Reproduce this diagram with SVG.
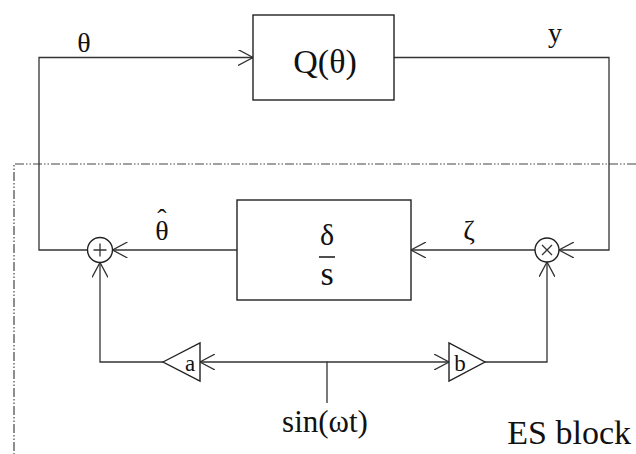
<svg xmlns="http://www.w3.org/2000/svg" width="636" height="454" viewBox="0 0 636 454">
<style>
.ln{fill:none;stroke:#333;stroke-width:1.3}
.bx{fill:#fff;stroke:#222;stroke-width:1.4}
.dd{fill:none;stroke:#444;stroke-width:1.2;stroke-dasharray:9 2 1.5 2 1.5 2}
.t{font-family:"Liberation Serif","Times New Roman","DejaVu Serif",serif;fill:#111}
</style>
<defs>
<marker id="ar" viewBox="0 0 15 16" refX="15" refY="8" markerWidth="15" markerHeight="16" markerUnits="userSpaceOnUse" orient="auto">
<path d="M0,0 L15,8 L0,16" fill="none" stroke="#333" stroke-width="1.3"/>
</marker>
</defs>
<rect width="636" height="454" fill="#fff"/>
<g id="es-boundary">
<path class="dd" d="M636,164 H14 V454"/>
</g>
<g id="connectors">
<path class="ln" d="M87.5,250 H39 V57.5 H253" marker-end="url(#ar)"/>
<path class="ln" d="M394,57.5 H609 V250 H559" marker-end="url(#ar)"/>
<path class="ln" d="M535,250 H411" marker-end="url(#ar)"/>
<path class="ln" d="M237,250 H112.5" marker-end="url(#ar)"/>
<path class="ln" d="M163,362 H100 V262.5" marker-end="url(#ar)"/>
<path class="ln" d="M485,362 H547 V262" marker-end="url(#ar)"/>
<path class="ln" d="M327,403 V362 H200" marker-end="url(#ar)"/>
<path class="ln" d="M327,362 H449" marker-end="url(#ar)"/>
</g>
<g id="plant">
<rect class="bx" x="253" y="15" width="141" height="85"/>
<text class="t" x="325" y="73" font-size="34" text-anchor="middle">Q(θ)</text>
</g>
<g id="integrator">
<rect class="bx" x="237" y="200" width="174" height="100"/>
<text class="t" x="327" y="245" font-size="30" text-anchor="middle">δ</text>
<line x1="319" y1="257" x2="335" y2="257" stroke="#222" stroke-width="1.6"/>
<text class="t" x="327" y="285" font-size="34" text-anchor="middle">s</text>
</g>
<g id="sum">
<circle class="bx" cx="100" cy="250" r="12.5"/>
<path class="ln" d="M93.5,250 H106.5 M100,243.5 V256.5"/>
</g>
<g id="mult">
<circle class="bx" cx="547" cy="250" r="12"/>
<path class="ln" d="M542,245 L552,255 M552,245 L542,255"/>
</g>
<g id="gain-a">
<polygon class="bx" points="163,362 200,343 200,381"/>
<text class="t" x="190" y="371" font-size="23" text-anchor="middle">a</text>
</g>
<g id="gain-b">
<polygon class="bx" points="449,343 449,381 485,362"/>
<text class="t" x="460" y="371" font-size="23" text-anchor="middle">b</text>
</g>
<g id="labels">
<text class="t" x="84" y="52" font-size="28" text-anchor="middle">θ</text>
<text class="t" x="555" y="42" font-size="28" text-anchor="middle">y</text>
<text class="t" x="162" y="240" font-size="28" text-anchor="middle">θ<tspan x="162" y="228">ˆ</tspan></text>
<text class="t" x="469" y="240" font-size="28" text-anchor="middle">ζ</text>
<text class="t" x="325" y="432" font-size="31" text-anchor="middle">sin(ωt)</text>
<text class="t" x="631" y="444" font-size="34" text-anchor="end">ES block</text>
</g>
</svg>
